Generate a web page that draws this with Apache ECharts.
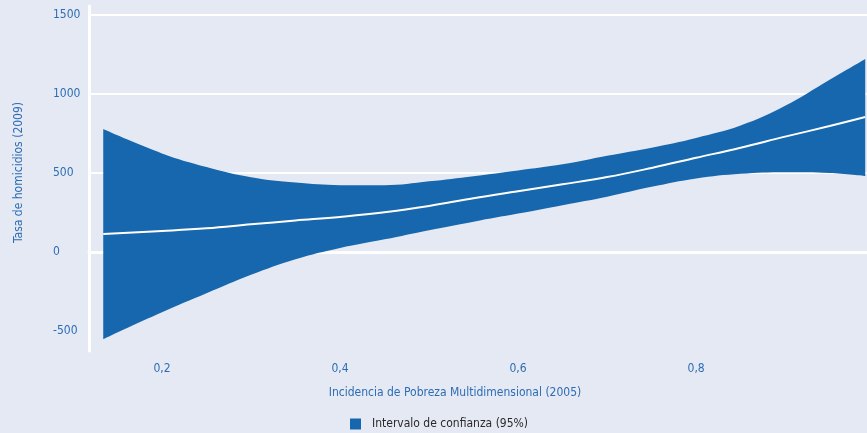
<!DOCTYPE html>
<html>
<head>
<meta charset="utf-8">
<script src="https://cdn.jsdelivr.net/npm/echarts@6/dist/echarts.min.js"></script>
<style>
html,body{margin:0;padding:0;background:#e5e9f3;}
#c{width:867px;height:433px;}
</style>
</head>
<body>
<div id="c"></div>
<script>
// Data
const xValues = [0.134, 0.2, 0.25, 0.3, 0.35, 0.4, 0.45, 0.5, 0.55, 0.6, 0.65, 0.7, 0.75, 0.8, 0.85, 0.9, 0.95, 0.99];
const upperCI = [778, 624, 538, 473, 439, 423, 422, 447, 480, 516, 555, 609, 660, 722, 800, 925, 1090, 1222];
const fitLine = [114, 133, 150, 175, 199, 222, 251, 291, 340, 384, 428, 474, 532, 596, 660, 730, 797, 854];
const lowerCI = [-552, -382, -262, -145, -46, 25, 80, 138, 192, 243, 296, 350, 412, 465, 495, 505, 500, 481];
const xTickLabels = [0.2, 0.4, 0.6, 0.8];
const yTickLabels = [-500, 0, 500, 1000, 1500];
const gridValues = [0, 500, 1000, 1500];

const legendName = 'Intervalo de confianza (95%)';
const FONT = '"DejaVu Sans Condensed", "Liberation Sans Narrow", "Liberation Sans", sans-serif';
const BLUE_TXT = '#2d6db4';
const BAND = '#1667ad';

// [y, x] order so that the stacked dimension is y (dimension 0)
const pairYX = (xs, ys) => xs.map((x, i) => [ys[i], x]);
const pairXY = (xs, ys) => xs.map((x, i) => [x, ys[i]]);
const diff = upperCI.map((u, i) => u - lowerCI[i]);

const chart = echarts.init(document.getElementById('c'));
chart.setOption({
  animation: false,
  backgroundColor: '#e5e9f3',
  grid: {left: 89, right: 0, top: 6, bottom: 82},
  legend: {
    data: [legendName],
    left: 350, top: 418,
    padding: 0,
    itemWidth: 11, itemHeight: 11,
    icon: 'rect',
    textStyle: {fontFamily: FONT, fontSize: 12, color: '#2a2a2a', padding: [0, 0, 0, 6]}
  },
  xAxis: {
    type: 'value',
    min: 0.118, max: 0.992,
    name: 'Incidencia de Pobreza Multidimensional (2005)',
    nameLocation: 'middle',
    nameGap: 36,
    nameTextStyle: {fontFamily: FONT, fontSize: 12, color: BLUE_TXT, padding: [0, 46, 0, 0]},
    axisLine: {show: true, lineStyle: {color: '#ffffff', width: 3}},
    axisTick: {show: false, customValues: xTickLabels},
    splitLine: {show: false},
    axisLabel: {
      margin: 12, fontFamily: FONT, fontSize: 12, color: BLUE_TXT,
      customValues: xTickLabels,
      formatter: v => String(v).replace('.', ',')
    }
  },
  yAxis: {
    type: 'value',
    min: -627, max: 1557,
    name: 'Tasa de homicidios (2009)',
    nameLocation: 'middle',
    nameGap: 64,
    nameTextStyle: {fontFamily: FONT, fontSize: 12, color: BLUE_TXT, padding: [0, 0, 0, 12]},
    axisLine: {show: true, lineStyle: {color: '#ffffff', width: 3}},
    axisTick: {show: false, customValues: gridValues},
    splitLine: {show: true, lineStyle: {color: '#ffffff', width: 2}},
    axisLabel: {
      margin: 36, align: 'left', fontFamily: FONT, fontSize: 12, color: BLUE_TXT,
      customValues: yTickLabels,
      formatter: v => String(v)
    }
  },
  series: [
    {
      name: 'lower',
      type: 'line',
      data: pairYX(xValues, lowerCI),
      encode: {x: 1, y: 0},
      stack: 'ci',
      stackStrategy: 'all',
      smooth: 0.4,
      symbol: 'none',
      lineStyle: {width: 0, opacity: 0},
      z: 2,
      silent: true
    },
    {
      name: legendName,
      type: 'line',
      data: pairYX(xValues, diff),
      encode: {x: 1, y: 0},
      stack: 'ci',
      stackStrategy: 'all',
      smooth: 0.4,
      symbol: 'none',
      itemStyle: {color: BAND},
      lineStyle: {width: 0, opacity: 0},
      areaStyle: {color: BAND, opacity: 1},
      z: 3,
      silent: true
    },
    {
      name: 'fit',
      type: 'line',
      data: pairXY(xValues, fitLine),
      smooth: 0.4,
      symbol: 'none',
      lineStyle: {color: '#ffffff', width: 2},
      z: 4,
      silent: true
    }
  ]
});
</script>
</body>
</html>
